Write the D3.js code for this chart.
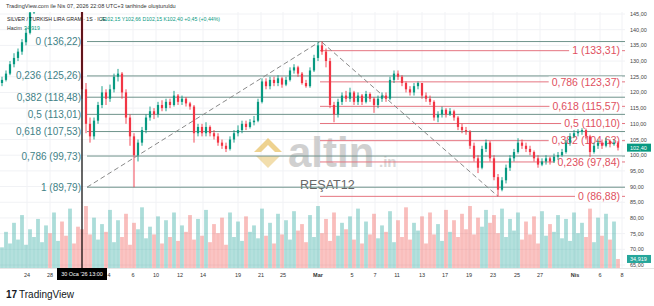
<!DOCTYPE html>
<html><head><meta charset="utf-8">
<script src="https://cdn.jsdelivr.net/npm/d3@7"></script>
<style>body{margin:0;background:#fff;} svg{display:block;font-family:"Liberation Sans",Arial,sans-serif;}</style>
</head><body><svg id="c" width="654" height="306"></svg>
<script>
// ---------- DATA ----------
const opens=[123,124,126,129,131,133,136,139,145.5,150,
156,158,162,160,165,168,163,158,166,160,
152,121,110,106,111,116,120,118,121,125,
126,120,112,106,100,104,108,112,114,113,
116,115,117,116,119,117,118,116.5,115.5,107,
109,107,109,107,106,104,103,102,105,107,
108,110,109,110.5,111,117,123.5,122,124,123,
124.5,122.5,124,127,128,126,123,122,127,131,
135,133,130,116,113,117,119,118,120,117,
119,117,119.5,118,116,118,119,118,124,126,
125,123,121,120,122,123,119,118,117,112,
113,114.5,113,114,112,109,108,107.5,103,99,
96,102,104,99,93,89,92,96,99,101,
104,103,102,101,99,97,98,99,98,99.5,
100,101,104,106,107,107.5,108,106,101,103,
104,103,104.5,103.5,104];
const closes=[124,126,129,131,133,136,139,145.5,150,156,
158,162,160,165,168,163,158,166,160,152,
121,110,106,111,116,120,118,121,125,126,
120,112,106,100,104,108,112,114,113,116,
115,117,116,119,117,118,116.5,115.5,107,109,
107,109,107,106,104,103,102,105,107,108,
110,109,110.5,111,117,123.5,122,124,123,124.5,
122.5,124,127,128,126,123,122,127,131,135,
133,130,116,113,117,119,118,120,117,119,
117,119.5,118,116,118,119,118,124,126,125,
123,121,120,122,123,119,118,117,112,113,
114.5,113,114,112,109,108,107.5,103,99,96,
102,104,99,93,89,92,96,99,101,104,
103,102,101,99,97,98,99,98,99.5,100,
101,104,106,107,107.5,108,106,101,103,104,
103,104.5,103.5,104,102.4];
const highs=[125,127,130,132.5,134,137,140.5,148,152,158,
160,164,163,167,170,169,164,167,167,161,
153,123,112,112,117,122,121,122.5,126,127.5,
126.5,121,113,107,105,109,113,115.5,115,117,
117.5,118,118,120.5,119.5,119,118.5,117,116,110,
110,110.5,109.5,108,107,105,104,106,108,109.5,
111,111,111.5,112.5,118,124.5,124.5,125,125,125.5,
125,125,128,129,128.5,126.5,124,128,132,136,
136.3,134,131,117,118,120,120.5,121.5,120.5,120,
119.5,120.5,120,118.5,119,120,120,125,127,127,
125.5,123.5,122,123,123.5,123,120,119,117.5,114,
115.5,115,115,114.5,112.5,110,109,108,104,100,
103,105,104.5,100,94,93,97,100,102,105.4,
105,104,103,101.5,100,99,100,99.5,100.5,101,
102,105,107,108,108.3,108.6,108.5,106.5,104,105,
105,105.5,105,105,104.5];
const lows=[122,123.5,125.5,128,130,132,135,138.5,145,149,
155,157,158,159,164,161,156,157,158,150,
118,107,104,105,110,115,116,117,120,123.5,
118,110,103,89.8,98,103,107,111,111.5,112,
114,114,115,115.5,116,116,115.5,114.5,104,106,
106,106,106,105,103,102,101,101.5,104,106,
107,108,108.5,109.5,110.5,116.5,121,121,122,122,
121.5,122,123.5,126,125,122.5,121.5,121.5,126.5,130,
132,128,115,110.5,112,116,117,117,116,116,
116,116.5,117,113.5,115,117,117,117.5,123,124,
122,120,119,119,121,118,117,116,111,110.5,
112,112,112.5,111,108,107,106.5,102,98,94.3,
95.5,101,98,92,86.9,88.5,91,95,98,100.5,
102,101,100,98,96,96.5,97,97,97.5,98.5,
99.5,100.5,103,105.5,106,106.5,105,99.4,100.5,102,
102,102.5,102.5,103,101.5];
const volumes=[80,140,95,175,110,205,90,150,120,190,
100,165,135,215,105,180,125,230,95,160,
150,240,130,195,110,170,140,225,100,185,
120,210,90,175,150,235,115,160,130,200,
95,185,120,215,105,165,140,205,110,190,
125,225,100,170,135,195,90,215,120,180,
105,200,140,165,115,230,125,175,95,210,
130,185,110,220,145,170,100,205,120,240,
135,190,105,215,125,175,150,200,110,230,
95,180,130,210,115,165,140,220,100,185,
120,235,110,175,145,200,95,215,130,170,
105,225,140,185,120,210,150,240,130,195,
160,225,175,205,135,230,120,190,145,215,
110,180,130,200,95,220,125,170,140,205,
115,190,105,215,135,175,120,230,100,195,
125,210,110,180,35];
const priceTicks=[145,140,135,130,125,120,115,110,105,100,95,90,85,80,75,70,65];
const timeLabels=["24","28","4","6","10","12","14","19","21","25","Mar","5","7","11","13","17","19","23","25","27","Nis","6","8"];
const timeIdx=[6.25,12,26.75,32.75,38.5,44.5,50.25,59,64.75,70.25,79,87.5,93.25,98.75,105,110.75,116.75,122.75,128.75,134.5,143.25,149.5,155];
const fibLeftLevels=[0,0.236,0.382,0.5,0.618,0.786,1];
const fibLeftPrices=[136.22,125.26,118.48,113.01,107.53,99.73,89.79];
const fibRightLevels=[1,0.786,0.618,0.5,0.382,0.236,0];
const fibRightPrices=[133.31,123.37,115.57,110.10,104.63,97.84,86.88];
const trendA=[[21.25,89.79],[79.5,136.22]];
const trendB=[[80,136.0],[124,86.88]];
const fibLeftStart=21.25, fibRightStart=79.5;
const crossIdx=20, crossLabel="30 Oca '26 13:00";
const lastPrice=102.40, lastVolLabel="34,919";

// ---------- SCALES ----------
const svg=d3.select("#c");
const W=654,H=306, paneR=625, paneT=12, paneB=268;
const x=d3.scaleLinear().domain([-0.5,155.5]).range([0,624]);
const y=d3.scaleLinear().domain([65,145]).range([265,14]);
const yv=d3.scaleLinear().domain([0,244]).range([paneB,205]);
const tr=v=>v.toFixed(2).replace(".",",");
const lv=v=>(v===0||v===1)?String(v):String(v).replace(".",",");

svg.append("rect").attr("width",W).attr("height",H).attr("fill","#fff");
svg.append("defs").append("clipPath").attr("id","pane").append("rect")
 .attr("x",0).attr("y",paneT).attr("width",paneR).attr("height",paneB-paneT);

// grid
const g=svg.append("g").attr("clip-path","url(#pane)");
g.selectAll(".hg").data(priceTicks).join("line").attr("x1",0).attr("x2",paneR)
 .attr("y1",d=>y(d)).attr("y2",d=>y(d)).attr("stroke","#f1f2f5");
g.selectAll(".vg").data(timeIdx).join("line").attr("y1",paneT).attr("y2",paneB)
 .attr("x1",d=>x(d)).attr("x2",d=>x(d)).attr("stroke","#f1f2f5");

// volume
const idx=d3.range(closes.length);
g.selectAll(".vol").data(idx).join("rect")
 .attr("x",i=>x(i)-1.9).attr("width",3.8)
 .attr("y",i=>yv(volumes[i])).attr("height",i=>paneB-yv(volumes[i]))
 .attr("fill",i=>closes[i]>=opens[i]?"#26a69a":"#ef5350").attr("fill-opacity",0.38);

// watermark
const wm=svg.append("g");
wm.append("polygon").attr("points","254,152 268,138 282,152 275,152 268,145 261,152").attr("fill","#e8c36a").attr("opacity",0.75);
wm.append("polygon").attr("points","256,156 280,156 268,168").attr("fill","#e8c36a").attr("opacity",0.55);
wm.append("text").attr("x",288).attr("y",167).attr("font-size",42).attr("font-weight","bold").attr("fill","#bdbdbd").attr("opacity",0.7).text("altin");
wm.append("text").attr("x",379).attr("y",167).attr("font-size",15).attr("font-weight","bold").attr("fill","#c8c8c8").attr("opacity",0.7).text(".in");
wm.append("text").attr("x",300).attr("y",189).attr("font-size",12.5).attr("fill","#666").text("REŞAT12");

// left fib
const fl=svg.append("g");
fl.selectAll("line").data(fibLeftPrices).join("line")
 .attr("x1",x(fibLeftStart)).attr("x2",paneR).attr("y1",d=>y(d)).attr("y2",d=>y(d))
 .attr("stroke","#6f938b").attr("stroke-width",1);
fl.selectAll("text").data(fibLeftPrices).join("text")
 .attr("x",x(fibLeftStart)-6).attr("y",d=>y(d)+3.5).attr("text-anchor","end")
 .attr("font-size",10).attr("fill","#3f8287")
 .text((d,i)=>lv(fibLeftLevels[i])+" ("+tr(d)+")");

// right fib
const fr=svg.append("g");
fr.selectAll("line").data(fibRightPrices).join("line")
 .attr("x1",x(fibRightStart)).attr("x2",paneR).attr("y1",d=>y(d)).attr("y2",d=>y(d))
 .attr("stroke","#e57580").attr("stroke-width",1);
const rl=fr.selectAll("g.l").data(fibRightPrices).join("g");
rl.append("rect").attr("class","bg");
rl.append("text").attr("x",620).attr("y",d=>y(d)+3.7).attr("text-anchor","end")
 .attr("font-size",10.5).attr("fill","#e0505e")
 .text((d,i)=>lv(fibRightLevels[i])+" ("+tr(d)+")");
rl.each(function(){const t=d3.select(this).select("text").node().getBBox();
 d3.select(this).select("rect").attr("x",t.x-3).attr("y",t.y+1).attr("width",t.width+5).attr("height",t.height-2).attr("fill","#fff");});

// trend lines
[trendA,trendB].forEach(t=>svg.append("line")
 .attr("x1",x(t[0][0])).attr("y1",y(t[0][1])).attr("x2",x(t[1][0])).attr("y2",y(t[1][1]))
 .attr("stroke","#8a8a8a").attr("stroke-width",1).attr("stroke-dasharray","5,3"));

// candles
const cg=svg.append("g").attr("clip-path","url(#pane)");
const col=i=>closes[i]>=opens[i]?"#089981":"#f23645";
cg.selectAll(".wick").data(idx).join("line")
 .attr("x1",i=>x(i)).attr("x2",i=>x(i)).attr("y1",i=>y(highs[i])).attr("y2",i=>y(lows[i]))
 .attr("stroke",col).attr("stroke-width",0.9);
cg.selectAll(".body").data(idx).join("rect")
 .attr("x",i=>x(i)-1.1).attr("width",2.2)
 .attr("y",i=>y(Math.max(opens[i],closes[i])))
 .attr("height",i=>Math.max(0.8,Math.abs(y(opens[i])-y(closes[i]))))
 .attr("fill",col);

// crosshair
svg.append("line").attr("x1",x(crossIdx)).attr("x2",x(crossIdx)).attr("y1",paneT).attr("y2",paneB)
 .attr("stroke","#000").attr("stroke-width",1.2);

// right axis
const ra=svg.append("g");
ra.selectAll("text").data(priceTicks).join("text").attr("x",630).attr("y",d=>y(d)+2)
 .attr("font-size",5.5).attr("fill","#444").text(d=>tr(d));
ra.append("rect").attr("x",627).attr("y",y(lastPrice)-4).attr("width",24).attr("height",8).attr("fill","#089981");
ra.append("text").attr("x",630).attr("y",y(lastPrice)+2).attr("font-size",5.5).attr("fill","#fff").text(tr(lastPrice));
ra.append("rect").attr("x",627).attr("y",yv(volumes[volumes.length-1])-4).attr("width",24).attr("height",8).attr("fill","#26a69a");
ra.append("text").attr("x",630).attr("y",yv(volumes[volumes.length-1])+2).attr("font-size",5.5).attr("fill","#fff").text(lastVolLabel);

// bottom axis
svg.append("line").attr("x1",0).attr("x2",W).attr("y1",paneB+0.5).attr("y2",paneB+0.5).attr("stroke","#e6e6e6");
svg.selectAll(".tl").data(timeLabels).join("text").attr("class","tl")
 .attr("x",(d,i)=>x(timeIdx[i])).attr("y",277).attr("text-anchor","middle")
 .attr("font-size",5.5).attr("font-weight",d=>(d==="Mar"||d==="Nis")?"bold":"normal")
 .attr("fill","#333").text(d=>d);
svg.append("rect").attr("x",x(crossIdx)-25).attr("y",paneB).attr("width",50).attr("height",12).attr("fill","#000");
svg.append("text").attr("x",x(crossIdx)).attr("y",paneB+8).attr("text-anchor","middle")
 .attr("font-size",5.5).attr("fill","#fff").text(crossLabel);

// header
svg.append("text").attr("x",6).attr("y",8).attr("font-size",5.6).attr("fill","#333")
 .text("TradingView.com ile Nis 07, 2026 22:08 UTC+3 tarihinde oluşturuldu");
svg.append("text").attr("x",7).attr("y",21).attr("font-size",5.2).attr("fill","#222")
 .text("SILVER / TURKISH LIRA GRAM · 1S · ICE");
svg.append("text").attr("x",101).attr("y",21).attr("font-size",5.2).attr("fill","#089981")
 .text("A102,15  Y102,66  D102,15  K102,40  +0,45 (+0,44%)");
svg.append("text").attr("x",7).attr("y",30).attr("font-size",5.2).attr("fill","#333").text("Hacim");
svg.append("text").attr("x",24).attr("y",30).attr("font-size",5.2).attr("fill","#089981").text("34,919");

// TradingView logo
svg.append("text").attr("x",6).attr("y",298).attr("font-size",10).attr("font-weight","bold").attr("fill","#131722").text("17");
svg.append("text").attr("x",19).attr("y",298).attr("font-size",10).attr("fill","#131722").text("TradingView");
</script></body></html>
